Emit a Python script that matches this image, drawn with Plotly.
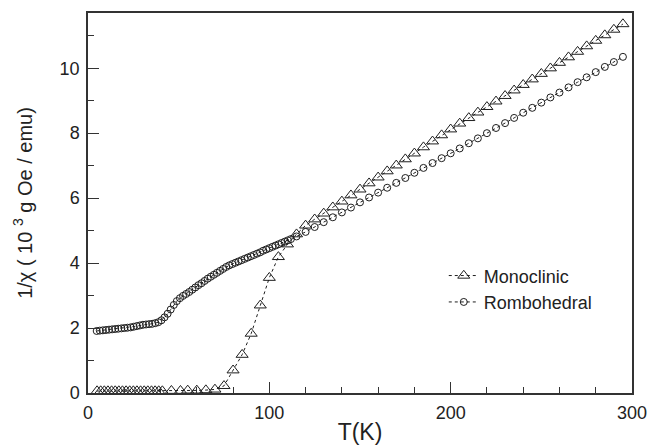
import plotly.graph_objects as go

# ---- Data ----
mono_T = [5, 7, 9, 11, 13, 15, 17, 19, 21, 23, 25, 27, 29, 31, 33, 35, 37, 39, 41,
          46, 51, 55, 60, 65, 70, 75, 80, 85, 90, 95, 100, 105, 110, 115, 120,
          125, 130, 135, 140, 145, 150, 155, 160, 165, 170, 175, 180, 185, 190, 195, 200, 205,
          210, 215, 220, 225, 230, 235, 240, 245, 250, 255, 260, 265, 270, 275, 280, 285, 290, 295]
mono_val = [0.06, 0.06, 0.06, 0.06, 0.06, 0.06, 0.06, 0.06, 0.06, 0.06, 0.06, 0.06, 0.06, 0.06,
            0.06, 0.06, 0.06, 0.06, 0.06,
            0.07, 0.07, 0.08, 0.08, 0.09, 0.11, 0.22, 0.70, 1.18, 1.83, 2.70, 3.55, 4.19, 4.58, 4.89, 5.16,
            5.35, 5.53, 5.72, 5.90, 6.09, 6.27, 6.46, 6.64, 6.83, 7.01, 7.20, 7.38, 7.57, 7.75, 7.94, 8.12, 8.30,
            8.47, 8.64, 8.81, 8.98, 9.15, 9.32, 9.49, 9.66, 9.83, 10.00, 10.17, 10.34, 10.51, 10.68, 10.85,
            11.02, 11.19, 11.36]

rhombo_T = [4.8, 6.5, 8.2, 9.9, 11.6, 13.3, 15.0, 16.7, 18.4, 20.1, 21.8, 23.5, 25.2, 26.9, 28.6,
            30.3, 32.0, 33.7, 35.4, 37.1, 38.8, 40.5, 42.2, 43.9, 45.6, 47.3, 49.0, 50.7, 52.4, 54.1,
            55.8, 57.5, 59.2, 60.9, 62.6, 64.3, 66.0, 67.7, 69.4, 71.1, 72.8, 74.5, 76.2, 77.9, 79.6,
            81.3, 83.0, 84.7, 86.4, 88.1, 89.8, 91.5, 93.2, 94.9, 96.6, 98.3, 100.0, 101.7, 103.4,
            105.1, 106.8, 108.5, 110.2, 111.9,
            115, 120, 125, 130, 135, 140, 145, 150, 155, 160, 165, 170, 175, 180, 185, 190, 195, 200,
            205, 210, 215, 220, 225, 230, 235, 240, 245, 250, 255, 260, 265, 270, 275, 280, 285, 290, 295]
rhombo_val = [1.91, 1.92, 1.93, 1.94, 1.95, 1.96, 1.97, 1.98, 1.99, 2.00, 2.01, 2.02, 2.04, 2.06, 2.08,
              2.10, 2.11, 2.12, 2.13, 2.15, 2.18, 2.24, 2.33, 2.44, 2.57, 2.71, 2.83, 2.92, 2.99, 3.05,
              3.11, 3.18, 3.25, 3.32, 3.38, 3.45, 3.52, 3.58, 3.64, 3.70, 3.76, 3.82, 3.88, 3.93, 3.97,
              4.01, 4.05, 4.09, 4.13, 4.17, 4.21, 4.25, 4.29, 4.33, 4.38, 4.42, 4.46, 4.50, 4.54,
              4.58, 4.62, 4.66, 4.70, 4.74,
              4.82, 4.96, 5.11, 5.26, 5.41, 5.56, 5.71, 5.87, 6.02, 6.17, 6.32, 6.47, 6.62, 6.78, 6.93,
              7.08, 7.23, 7.38, 7.53, 7.69, 7.84, 8.00, 8.16, 8.31, 8.47, 8.63, 8.78, 8.94, 9.10, 9.25,
              9.41, 9.57, 9.72, 9.88, 10.04, 10.19, 10.35]

x_ticks = [0, 100, 200, 300]
y_ticks = [0, 2, 4, 6, 8, 10]

FONT = "Liberation Sans, Arial, Helvetica, sans-serif"
INK = "#1e1e1e"

fig = go.Figure()
fig.add_trace(go.Scatter(
    x=mono_T, y=mono_val, mode="lines+markers", name="Monoclinic",
    line=dict(color=INK, width=1, dash="dot"),
    marker=dict(symbol="triangle-up-open", size=10.5, color=INK, line=dict(width=1, color=INK)),
))
fig.add_trace(go.Scatter(
    x=rhombo_T, y=rhombo_val, mode="lines+markers", name="Rombohedral",
    line=dict(color=INK, width=1, dash="dot"),
    marker=dict(symbol="circle-open", size=7, color=INK, line=dict(width=1, color=INK)),
))

axis_common = dict(
    showline=True, linecolor="#333333", linewidth=1.5, mirror=True,
    showgrid=False, zeroline=False, automargin=False,
    ticks="inside", ticklen=11, tickwidth=1.2, tickcolor="#333333",
    tickfont=dict(family=FONT, size=18, color="#222222"),
)

fig.update_xaxes(
    range=[0, 300], tickvals=x_ticks, ticklabelstandoff=3,
    minor=dict(ticks="inside", dtick=20, ticklen=6, tickwidth=1.2, tickcolor="#333333"),
    title=dict(text="T(K)", font=dict(family=FONT, size=23, color="#222222"), standoff=2),
    **axis_common,
)
fig.update_yaxes(
    range=[0, 11.7], tickvals=y_ticks, ticklabelstandoff=3,
    minor=dict(ticks="inside", dtick=1, ticklen=6, tickwidth=1.2, tickcolor="#333333"),
    title=dict(text="1/\u03c7 ( 10 <sup>3</sup> g Oe / emu)",
               font=dict(family=FONT, size=20, color="#222222"), standoff=22),
    **axis_common,
)

fig.update_layout(
    width=648, height=446,
    margin=dict(l=88, r=16, t=13, b=53),
    paper_bgcolor="white", plot_bgcolor="white",
    showlegend=True,
    legend=dict(x=0.654, y=0.357, xanchor="left", yanchor="top",
                bgcolor="rgba(0,0,0,0)", borderwidth=0,
                font=dict(family=FONT, size=18, color="#222222"),
                itemwidth=30, tracegroupgap=0),
)

fig.write_html("out.html")
